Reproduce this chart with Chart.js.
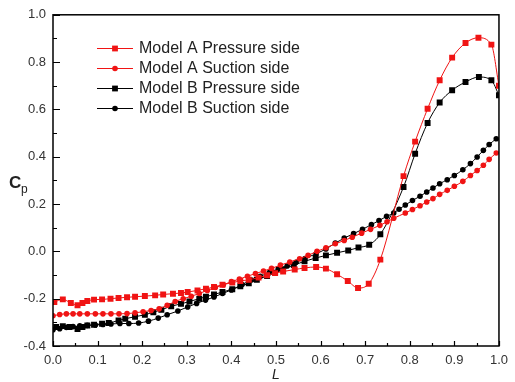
<!DOCTYPE html>
<html>
<head>
<meta charset="utf-8">
<script src="https://cdn.jsdelivr.net/npm/chart.js@4.4.1/dist/chart.umd.min.js"></script>
<style>
  html, body { margin: 0; padding: 0; background: #fff; }
  #c { display: block; }
</style>
</head>
<body>
<canvas id="c" width="515" height="382"></canvas>
<script>
// Pressure coefficient Cp along the normalised chord position L
const seriesNames = [
  'Model A Pressure side',
  'Model A Suction side',
  'Model B Pressure side',
  'Model B Suction side'
];

const aPressureL = [0.003, 0.022, 0.040, 0.055, 0.066, 0.077, 0.092, 0.110, 0.129, 0.147, 0.166, 0.184, 0.206, 0.229, 0.247, 0.269, 0.287, 0.302, 0.324, 0.343, 0.361, 0.380, 0.402, 0.420, 0.439, 0.461, 0.480, 0.498, 0.516, 0.542, 0.564, 0.590, 0.612, 0.637, 0.661, 0.684, 0.708, 0.734, 0.786, 0.812, 0.840, 0.867, 0.895, 0.925, 0.954, 0.983, 1.000];
const aPressureCp = [-0.214, -0.203, -0.218, -0.228, -0.218, -0.210, -0.204, -0.203, -0.200, -0.197, -0.194, -0.192, -0.189, -0.186, -0.182, -0.179, -0.176, -0.172, -0.165, -0.158, -0.151, -0.141, -0.132, -0.125, -0.120, -0.111, -0.101, -0.092, -0.085, -0.077, -0.070, -0.066, -0.073, -0.097, -0.125, -0.155, -0.137, -0.035, 0.318, 0.464, 0.603, 0.723, 0.819, 0.881, 0.903, 0.874, 0.700];

const aSuctionL = [0.000, 0.015, 0.030, 0.045, 0.060, 0.077, 0.095, 0.112, 0.130, 0.148, 0.166, 0.184, 0.202, 0.220, 0.238, 0.256, 0.274, 0.292, 0.310, 0.328, 0.346, 0.364, 0.382, 0.400, 0.418, 0.436, 0.454, 0.472, 0.490, 0.510, 0.531, 0.553, 0.572, 0.592, 0.612, 0.633, 0.653, 0.671, 0.692, 0.712, 0.733, 0.749, 0.764, 0.790, 0.806, 0.823, 0.838, 0.852, 0.867, 0.884, 0.900, 0.919, 0.936, 0.951, 0.965, 0.978, 0.994];
const aSuctionCp = [-0.272, -0.267, -0.264, -0.264, -0.264, -0.264, -0.264, -0.264, -0.264, -0.264, -0.263, -0.260, -0.255, -0.250, -0.243, -0.228, -0.212, -0.200, -0.190, -0.178, -0.165, -0.153, -0.141, -0.128, -0.117, -0.105, -0.094, -0.083, -0.072, -0.058, -0.045, -0.031, -0.017, 0.000, 0.015, 0.032, 0.046, 0.060, 0.077, 0.093, 0.110, 0.125, 0.140, 0.162, 0.177, 0.193, 0.209, 0.223, 0.241, 0.258, 0.275, 0.296, 0.321, 0.342, 0.364, 0.389, 0.416];

const bPressureL = [0.007, 0.022, 0.037, 0.055, 0.066, 0.077, 0.092, 0.110, 0.125, 0.147, 0.162, 0.184, 0.206, 0.225, 0.243, 0.265, 0.287, 0.306, 0.328, 0.343, 0.361, 0.380, 0.402, 0.420, 0.439, 0.457, 0.480, 0.498, 0.516, 0.540, 0.564, 0.589, 0.612, 0.637, 0.662, 0.685, 0.709, 0.734, 0.786, 0.812, 0.840, 0.867, 0.895, 0.925, 0.955, 0.983, 1.000];
const bPressureCp = [-0.320, -0.316, -0.320, -0.328, -0.320, -0.313, -0.310, -0.306, -0.303, -0.292, -0.285, -0.276, -0.268, -0.257, -0.247, -0.232, -0.222, -0.212, -0.200, -0.192, -0.182, -0.172, -0.160, -0.148, -0.135, -0.120, -0.104, -0.090, -0.075, -0.058, -0.042, -0.028, -0.017, -0.006, 0.004, 0.016, 0.028, 0.072, 0.272, 0.413, 0.543, 0.629, 0.681, 0.716, 0.737, 0.723, 0.660];

const bSuctionL = [0.000, 0.015, 0.030, 0.045, 0.060, 0.077, 0.095, 0.112, 0.130, 0.150, 0.170, 0.192, 0.214, 0.236, 0.256, 0.280, 0.302, 0.322, 0.342, 0.361, 0.380, 0.400, 0.424, 0.445, 0.465, 0.485, 0.505, 0.525, 0.545, 0.565, 0.590, 0.612, 0.633, 0.653, 0.674, 0.694, 0.714, 0.731, 0.748, 0.764, 0.776, 0.790, 0.806, 0.823, 0.838, 0.852, 0.867, 0.884, 0.900, 0.919, 0.936, 0.951, 0.965, 0.978, 0.994];
const bSuctionCp = [-0.331, -0.327, -0.322, -0.318, -0.315, -0.313, -0.311, -0.309, -0.307, -0.305, -0.305, -0.303, -0.295, -0.282, -0.268, -0.252, -0.235, -0.220, -0.206, -0.193, -0.178, -0.163, -0.140, -0.121, -0.105, -0.090, -0.075, -0.062, -0.046, -0.030, -0.010, 0.010, 0.035, 0.056, 0.075, 0.093, 0.113, 0.130, 0.148, 0.162, 0.178, 0.196, 0.215, 0.233, 0.251, 0.268, 0.286, 0.303, 0.321, 0.345, 0.371, 0.399, 0.427, 0.452, 0.476];

// Axis tick values
const xTickValues = [0.0, 0.1, 0.2, 0.3, 0.4, 0.5, 0.6, 0.7, 0.8, 0.9, 1.0];
const yTickValues = [-0.4, -0.2, 0.0, 0.2, 0.4, 0.6, 0.8, 1.0];

const RED = '#f01414';
const BLACK = '#000000';

function toPoints(xs, ys) {
  return xs.map((x, i) => ({ x: x, y: ys[i] }));
}

function makeSet(label, xs, ys, color, style, radius) {
  return {
    label: label,
    data: toPoints(xs, ys),
    borderColor: color,
    backgroundColor: color,
    borderWidth: 1,
    pointStyle: style,
    pointRadius: radius,
    pointBorderWidth: 0,
    pointHoverRadius: radius,
    cubicInterpolationMode: 'monotone',
    fill: false
  };
}

const datasets = [
  makeSet(seriesNames[0], aPressureL, aPressureCp, RED, 'rect', 4.2),
  makeSet(seriesNames[1], aSuctionL, aSuctionCp, RED, 'circle', 2.8),
  makeSet(seriesNames[2], bPressureL, bPressureCp, BLACK, 'rect', 4.2),
  makeSet(seriesNames[3], bSuctionL, bSuctionCp, BLACK, 'circle', 2.8)
];

const FONT = '"Liberation Sans", Arial, sans-serif';

// Frame, inward ticks, in-plot legend and axis titles
const decorations = {
  id: 'decorations',
  afterDatasetsDraw(chart) {
    const ctx = chart.ctx;
    const area = chart.chartArea;
    const xs = chart.scales.x;
    const ys = chart.scales.y;
    ctx.save();

    // box around the plot
    ctx.strokeStyle = '#000';
    ctx.lineWidth = 1.5;
    ctx.strokeRect(area.left, area.top, area.right - area.left, area.bottom - area.top);

    // inward ticks on the bottom axis
    ctx.lineWidth = 1.2;
    ctx.beginPath();
    for (let k = 0; k <= 20; k++) {
      const v = k * 0.05;
      const px = Math.round(xs.getPixelForValue(v)) + 0.5;
      const len = (k % 2 === 0) ? 5 : 3;
      ctx.moveTo(px, area.bottom);
      ctx.lineTo(px, area.bottom - len);
    }
    // inward ticks on the left axis
    for (let k = 0; k <= 14; k++) {
      const v = -0.4 + k * 0.1;
      const py = Math.round(ys.getPixelForValue(v)) + 0.5;
      const len = (k % 2 === 0) ? 7 : 4;
      ctx.moveTo(area.left, py);
      ctx.lineTo(area.left + len, py);
    }
    ctx.stroke();

    // legend
    const lx0 = 97, lx1 = 133, mx = 115, tx = 139, y0 = 48, dy = 20;
    chart.data.datasets.forEach((ds, i) => {
      const y = y0 + i * dy;
      ctx.strokeStyle = ds.borderColor;
      ctx.lineWidth = 1;
      ctx.beginPath();
      ctx.moveTo(lx0, y + 0.5);
      ctx.lineTo(lx1, y + 0.5);
      ctx.stroke();
      ctx.fillStyle = ds.backgroundColor;
      if (ds.pointStyle === 'rect') {
        ctx.fillRect(mx - 2.9, y + 0.5 - 2.9, 5.8, 5.8);
      } else {
        ctx.beginPath();
        ctx.arc(mx, y + 0.5, 2.8, 0, Math.PI * 2);
        ctx.fill();
      }
      ctx.fillStyle = '#222';
      ctx.font = '16px ' + FONT;
      ctx.textBaseline = 'middle';
      ctx.textAlign = 'left';
      ctx.fillText(ds.label, tx, y + 1);
    });

    // axis titles
    ctx.fillStyle = '#222';
    ctx.textBaseline = 'alphabetic';
    ctx.font = 'italic 14px ' + FONT;
    ctx.textAlign = 'center';
    ctx.fillText('L', (area.left + area.right) / 2, 379);

    ctx.textAlign = 'left';
    ctx.font = 'bold 17px ' + FONT;
    ctx.fillText('C', 9, 188);
    ctx.font = '12px ' + FONT;
    ctx.fillText('p', 21, 193);

    ctx.restore();
  }
};

new Chart(document.getElementById('c'), {
  type: 'line',
  data: { datasets: datasets },
  options: {
    responsive: false,
    animation: false,
    events: [],
    layout: { padding: { top: 14, right: 10, left: 0, bottom: 0 } },
    plugins: {
      legend: { display: false },
      tooltip: { enabled: false }
    },
    scales: {
      x: {
        type: 'linear',
        min: 0,
        max: 1,
        border: { display: false },
        grid: { display: false, drawTicks: false },
        afterBuildTicks(scale) { scale.ticks = xTickValues.map(v => ({ value: v })); },
        afterFit(scale) { scale.height = 36; },
        ticks: {
          padding: 7,
          maxRotation: 0,
          autoSkip: false,
          color: '#333',
          font: { family: FONT, size: 13 },
          callback: v => Number(v).toFixed(1)
        }
      },
      y: {
        type: 'linear',
        min: -0.4,
        max: 1.0,
        border: { display: false },
        grid: { display: false, drawTicks: false },
        afterBuildTicks(scale) { scale.ticks = yTickValues.map(v => ({ value: v })); },
        afterFit(scale) { scale.width = 53; },
        ticks: {
          padding: 7,
          autoSkip: false,
          color: '#333',
          font: { family: FONT, size: 13 },
          callback: v => Number(v).toFixed(1)
        }
      }
    }
  },
  plugins: [decorations]
});
</script>
</body>
</html>
